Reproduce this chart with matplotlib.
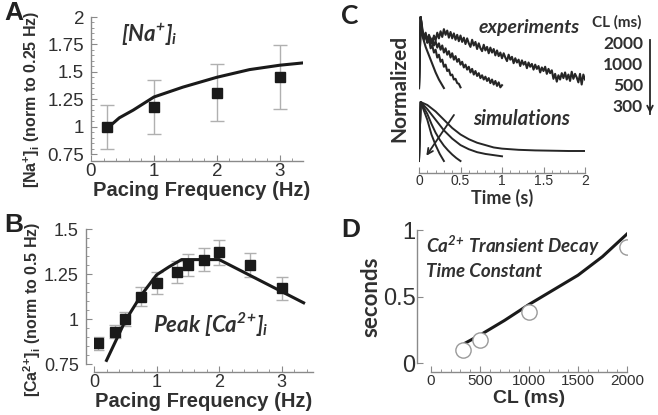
import matplotlib
matplotlib.use('Agg')
import matplotlib.pyplot as plt
from matplotlib.ticker import MultipleLocator

plt.rcParams['font.family'] = ['Liberation Sans', 'DejaVu Sans']
plt.rcParams['mathtext.default'] = 'regular'

W, H = 658, 415

# ---- panel A: [Na+]i vs pacing frequency
na_freq = [0.25, 1, 2, 3]
na_mean = [1.0, 1.18, 1.31, 1.45]
na_err = [0.2, 0.245, 0.26, 0.29]
na_sim_f = [0.27, 0.45, 0.67, 1.0, 1.46, 2.0, 2.52, 3.0, 3.35]
na_sim_v = [0.99, 1.08, 1.15, 1.27, 1.36, 1.45, 1.52, 1.56, 1.58]

# ---- panel B: peak [Ca2+]i vs pacing frequency
ca_freq = [0.07, 0.33, 0.5, 0.75, 1.0, 1.33, 1.5, 1.75, 2.0, 2.5, 3.0]
ca_mean = [0.865, 0.93, 1.0, 1.125, 1.2, 1.26, 1.30, 1.33, 1.37, 1.30, 1.17]
ca_err = [0.035, 0.035, 0.04, 0.055, 0.06, 0.06, 0.06, 0.065, 0.07, 0.065, 0.065]
ca_sim_f = [0.2, 0.5, 0.75, 1.0, 1.2, 1.4, 2.0, 3.35]
ca_sim_v = [0.77, 0.99, 1.13, 1.245, 1.29, 1.33, 1.33, 1.09]

# ---- panel C: normalized transients, experiments (noisy recordings)
exp_t_2000 = [0, 0.02, 0.04, 0.06, 0.08, 0.10, 0.12, 0.14, 0.16, 0.18, 0.20,
              0.22, 0.24, 0.26, 0.28, 0.30, 0.32, 0.34, 0.36, 0.38, 0.40,
              0.42, 0.44, 0.46, 0.48, 0.50, 0.52, 0.54, 0.56, 0.58, 0.60,
              0.62, 0.64, 0.66, 0.68, 0.70, 0.72, 0.74, 0.76, 0.78, 0.80,
              0.82, 0.84, 0.86, 0.88, 0.90, 0.92, 0.94, 0.96, 0.98, 1.00,
              1.02, 1.04, 1.06, 1.08, 1.10, 1.12, 1.14, 1.16, 1.18, 1.20,
              1.22, 1.24, 1.26, 1.28, 1.30, 1.32, 1.34, 1.36, 1.38, 1.40,
              1.42, 1.44, 1.46, 1.48, 1.50, 1.52, 1.54, 1.56, 1.58, 1.60,
              1.62, 1.64, 1.66, 1.68, 1.70, 1.72, 1.74, 1.76, 1.78, 1.80,
              1.82, 1.84, 1.86, 1.88, 1.90, 1.92, 1.94, 1.96, 1.98, 2.00]
exp_v_2000 = [0, 1.0, 0.84, 0.70, 0.78, 0.66, 0.75, 0.69, 0.62, 0.74, 0.67,
              0.78, 0.70, 0.80, 0.72, 0.83, 0.75, 0.81, 0.71, 0.79, 0.70,
              0.77, 0.68, 0.75, 0.66, 0.74, 0.65, 0.71, 0.62, 0.70, 0.63,
              0.58, 0.68, 0.60, 0.65, 0.55, 0.63, 0.56, 0.52, 0.61, 0.53,
              0.58, 0.49, 0.57, 0.50, 0.55, 0.46, 0.53, 0.45, 0.50, 0.42,
              0.49, 0.43, 0.38, 0.47, 0.40, 0.44, 0.35, 0.42, 0.36, 0.40,
              0.31, 0.39, 0.33, 0.37, 0.28, 0.36, 0.30, 0.34, 0.26, 0.33,
              0.27, 0.31, 0.22, 0.29, 0.24, 0.30, 0.20, 0.27, 0.21, 0.25,
              0.13, 0.20, 0.09, 0.18, 0.12, 0.21, 0.14, 0.22, 0.12, 0.19,
              0.10, 0.23, 0.13, 0.20, 0.15, 0.08, 0.20, 0.05, 0.19, 0.12]
exp_t_1000 = [0, 0.02, 0.04, 0.06, 0.08, 0.10, 0.12, 0.14, 0.16, 0.18, 0.20,
              0.22, 0.24, 0.26, 0.28, 0.30, 0.32, 0.34, 0.36, 0.38, 0.40,
              0.42, 0.44, 0.46, 0.48, 0.50, 0.52, 0.54, 0.56, 0.58, 0.60,
              0.62, 0.64, 0.66, 0.68, 0.70, 0.72, 0.74, 0.76, 0.78, 0.80,
              0.82, 0.84, 0.86, 0.88, 0.90, 0.92, 0.94, 0.96, 0.98, 1.00]
exp_v_1000 = [0, 1.0, 0.80, 0.68, 0.76, 0.64, 0.72, 0.62, 0.70, 0.60, 0.66,
              0.57, 0.63, 0.54, 0.60, 0.50, 0.56, 0.47, 0.52, 0.43, 0.49,
              0.40, 0.45, 0.37, 0.41, 0.33, 0.37, 0.29, 0.33, 0.26, 0.30,
              0.22, 0.27, 0.19, 0.24, 0.17, 0.21, 0.14, 0.18, 0.12, 0.16,
              0.10, 0.14, 0.07, 0.12, 0.05, 0.10, 0.03, 0.08, 0.01, 0.04]
exp_t_500 = [0, 0.02, 0.04, 0.06, 0.08, 0.10, 0.12, 0.14, 0.16, 0.18, 0.20, 0.22, 0.24,
             0.26, 0.28, 0.30, 0.32, 0.34, 0.36, 0.38, 0.40, 0.42, 0.44, 0.46, 0.48, 0.50]
exp_v_500 = [0, 1.0, 0.78, 0.70, 0.74, 0.64, 0.68, 0.56, 0.60, 0.50, 0.54, 0.43, 0.47,
             0.37, 0.40, 0.30, 0.33, 0.24, 0.26, 0.18, 0.19, 0.12, 0.13, 0.07, 0.06, 0.01]
exp_t_300 = [0, 0.02, 0.04, 0.06, 0.08, 0.10, 0.12, 0.14, 0.16, 0.18, 0.20, 0.22, 0.24,
             0.26, 0.28, 0.30]
exp_v_300 = [0, 1.0, 0.74, 0.66, 0.58, 0.52, 0.46, 0.40, 0.34, 0.28, 0.22, 0.17, 0.12,
             0.08, 0.04, 0.0]

# simulations
sim_t_2000 = [0, 0.02, 0.1, 0.2, 0.3, 0.4, 0.5, 0.6, 0.7, 0.8, 0.9, 1.0, 1.2, 1.4, 1.6, 1.8, 2.0]
sim_v_2000 = [0, 1.0, 0.95, 0.84, 0.70, 0.56, 0.45, 0.37, 0.31, 0.27, 0.23, 0.21, 0.19,
              0.18, 0.175, 0.17, 0.17]
sim_t_1000 = [0, 0.02, 0.1, 0.2, 0.3, 0.4, 0.5, 0.6, 0.7, 0.8, 0.9, 1.0]
sim_v_1000 = [0, 1.0, 0.88, 0.70, 0.52, 0.38, 0.27, 0.20, 0.15, 0.12, 0.10, 0.08]
sim_t_500 = [0, 0.02, 0.1, 0.15, 0.2, 0.25, 0.3, 0.35, 0.4, 0.45, 0.5]
sim_v_500 = [0, 1.0, 0.80, 0.63, 0.48, 0.36, 0.26, 0.18, 0.11, 0.05, 0.0]
sim_t_300 = [0, 0.02, 0.1, 0.15, 0.2, 0.25, 0.3]
sim_v_300 = [0, 1.0, 0.70, 0.45, 0.27, 0.12, 0.0]
cl_labels = ['2000', '1000', '500', '300']

# ---- panel D: decay time constant vs CL
tau_cl = [330, 500, 1000, 2000]
tau_exp = [0.10, 0.17, 0.38, 0.87]
tau_sim_cl = [350, 500, 750, 1000, 1250, 1500, 1750, 2000]
tau_sim = [0.15, 0.21, 0.32, 0.44, 0.55, 0.66, 0.80, 0.97]

fig = plt.figure(figsize=(W / 100, H / 100), dpi=100)


def box(l, t, r, b):
    return [l / W, 1 - b / H, (r - l) / W, (b - t) / H]


def px(x, y):
    return x / W, 1 - y / H


AX = '#8a8a8a'
TXT = '#303030'
CAL = ['Lato', 'DejaVu Sans']
ARIAL = ['Liberation Sans', 'DejaVu Sans']


def style(ax, size):
    for s in ['top', 'right']:
        ax.spines[s].set_visible(False)
    for s in ['left', 'bottom']:
        ax.spines[s].set_color(AX)
        ax.spines[s].set_linewidth(1)
    ax.tick_params(which='both', direction='in', colors=AX, labelcolor=TXT,
                   labelsize=size)
    ax.tick_params(which='major', length=4)
    ax.tick_params(which='minor', length=2)
    ax.tick_params(axis='x', pad=1.5)
    ax.tick_params(axis='y', pad=5)


# A
axA = fig.add_axes(box(91, 17, 303, 154))
style(axA, 13.5)
axA.errorbar(na_freq, na_mean, yerr=na_err, fmt='none', ecolor='#b0b0b0', elinewidth=1,
             capsize=5, capthick=1)
axA.plot(na_sim_f, na_sim_v, color='#1a1a1a', lw=2.2)
axA.plot(na_freq, na_mean, 's', color='#1a1a1a', ms=7)
axA.set_xlim(0, 3.37)
axA.set_ylim(0.75, 2.0)
axA.set_xticks([0, 1, 2, 3])
axA.xaxis.set_minor_locator(MultipleLocator(0.2))
axA.set_yticks([0.75, 1, 1.25, 1.5, 1.75, 2])
axA.set_yticklabels(['0.75', '1', '1.25', '1.5', '1.75', '2'])
axA.yaxis.set_minor_locator(MultipleLocator(0.05))
axA.spines['bottom'].set_position(('outward', 5))
axA.text(0.47, 1.84, '[Na$^{+}$]$_{i}$', fontsize=16, fontweight='bold', style='italic',
         family=CAL, color=TXT, va='center')

# B
axB = fig.add_axes(box(94, 229, 313, 364))
style(axB, 13)
axB.errorbar(ca_freq, ca_mean, yerr=ca_err, fmt='none', ecolor='#b0b0b0', elinewidth=1,
             capsize=4, capthick=1)
axB.plot(ca_sim_f, ca_sim_v, color='#1a1a1a', lw=2.2)
axB.plot(ca_freq, ca_mean, 's', color='#1a1a1a', ms=6.5)
axB.set_xlim(0, 3.5)
axB.set_ylim(0.75, 1.5)
axB.set_xticks([0, 1, 2, 3])
axB.xaxis.set_minor_locator(MultipleLocator(0.2))
axB.set_yticks([0.75, 1, 1.25, 1.5])
axB.set_yticklabels(['0.75', '1', '1.25', '1.5'])
axB.yaxis.set_minor_locator(MultipleLocator(0.05))
axB.spines['bottom'].set_position(('outward', 6))
axB.spines['left'].set_position(('outward', 6))
axB.text(0.94, 0.97, 'Peak [Ca$^{2}{}^{+}$]$_{i}$', fontsize=16, fontweight='bold',
         style='italic', family=CAL, color=TXT, va='center')

# C
axC = fig.add_axes(box(419, 10, 585, 173))
style(axC, 10)
axC.tick_params(axis='x', pad=1)
axC.spines['left'].set_visible(False)
axC.set_yticks([])
exp_base, exp_amp = 1.237, 1.203
for t, v in [(exp_t_2000, exp_v_2000), (exp_t_1000, exp_v_1000),
             (exp_t_500, exp_v_500), (exp_t_300, exp_v_300)]:
    axC.plot(t, [exp_base + exp_amp * x for x in v], color='#262626', lw=1.5)
for t, v in [(sim_t_2000, sim_v_2000), (sim_t_1000, sim_v_1000),
             (sim_t_500, sim_v_500), (sim_t_300, sim_v_300)]:
    axC.plot(t, v, color='#262626', lw=1.4)
axC.annotate('', xy=(0.07, 0.05), xytext=(0.44, 0.82),
             arrowprops=dict(arrowstyle='->', color='#262626', lw=1.3))
axC.set_xlim(0, 2)
axC.set_ylim(-0.203, 2.56)
axC.set_xticks([0, 0.5, 1, 1.5, 2])
axC.set_xticklabels(['0', '0.5', '1', '1.5', '2'])
axC.xaxis.set_minor_locator(MultipleLocator(0.1))
axC.text(0.72, 2.27, 'experiments', fontsize=14, style='italic', fontweight='bold',
         family=CAL, color=TXT, va='center')
axC.text(0.65, 0.72, 'simulations', fontsize=14.5, style='italic', fontweight='bold',
         family=CAL, color=TXT, va='center')

# D
axD = fig.add_axes(box(431, 230, 627, 363))
style(axD, 11)
axD.plot(tau_sim_cl, tau_sim, color='#1a1a1a', lw=2.2)
axD.plot(tau_cl, tau_exp, 'o', ms=11, mfc='white', mec='#9a9a9a', mew=1)
axD.set_xlim(0, 2000)
axD.set_ylim(0, 1)
axD.set_xticks([0, 500, 1000, 1500, 2000])
axD.xaxis.set_minor_locator(MultipleLocator(100))
axD.set_yticks([0, 0.5, 1])
axD.set_yticklabels(['0', '0.5', '1'])
axD.tick_params(axis='y', labelsize=17, pad=1)
axD.spines['bottom'].set_position(('outward', 6.5))
axD.spines['left'].set_position(('outward', 10))
axD.text(-50, 0.88, 'Ca$^{2}{}^{+}$ Transient Decay', fontsize=13.5, style='italic',
         fontweight='bold', family=CAL, color=TXT, va='center')
axD.text(-50, 0.69, 'Time Constant', fontsize=13.5, style='italic',
         fontweight='bold', family=CAL, color=TXT, va='center')

# axis labels
fig.text(*px(202, 190), 'Pacing Frequency (Hz)', fontsize=14.5, fontweight='bold',
         family=ARIAL, color=TXT, ha='center', va='center')
fig.text(*px(204, 401), 'Pacing Frequency (Hz)', fontsize=14.5, fontweight='bold',
         family=ARIAL, color=TXT, ha='center', va='center')
fig.text(*px(32, 99), '[Na$^{+}$]$_{i}$ (norm to 0.25 Hz)', fontsize=11.5,
         fontweight='bold', family=ARIAL, color=TXT, rotation=90, ha='center', va='center')
fig.text(*px(32, 309), '[Ca$^{2}{}^{+}$]$_{i}$ (norm to 0.5 Hz)', fontsize=11.5,
         fontweight='bold', family=ARIAL, color=TXT, rotation=90, ha='center', va='center')
fig.text(*px(399, 88), 'Normalized', fontsize=15, fontweight='bold', family=CAL,
         color=TXT, rotation=90, ha='center', va='center')
fig.text(*px(502, 198), 'Time (s)', fontsize=13, fontweight='bold', family=CAL,
         color=TXT, ha='center', va='center')
fig.text(*px(371, 297), 'seconds', fontsize=16, fontweight='bold', family=CAL,
         color=TXT, rotation=90, ha='center', va='center')
fig.text(*px(529, 398), 'CL (ms)', fontsize=14, fontweight='bold', family=ARIAL,
         color=TXT, ha='center', va='center')

# CL legend in C
fig.text(*px(617, 22), 'CL (ms)', fontsize=11, fontweight='bold', family=CAL,
         color=TXT, ha='center', va='center')
for i, lab in enumerate(cl_labels):
    fig.text(*px(643, 44 + i * 21), lab, fontsize=12.5, fontweight='bold', family=CAL,
             color=TXT, ha='right', va='center')
fig.add_artist(plt.Line2D([650 / W, 650 / W], [1 - 40 / H, 1 - 114 / H], color='#262626',
                          lw=1.3))
axC.annotate('', xy=px(650, 116), xytext=px(650, 105), xycoords='figure fraction',
             textcoords='figure fraction',
             arrowprops=dict(arrowstyle='->', color='#262626', lw=1.3))

# panel letters
fig.text(*px(14, 13), 'A', fontsize=19, fontweight='bold', family=ARIAL, color='#222',
         ha='center', va='center')
fig.text(*px(14, 225), 'B', fontsize=19, fontweight='bold', family=ARIAL, color='#222',
         ha='center', va='center')
fig.text(*px(350, 16), 'C', fontsize=19, fontweight='bold', family=CAL, color='#222',
         ha='center', va='center')
fig.text(*px(351, 230), 'D', fontsize=19, fontweight='bold', family=ARIAL, color='#222',
         ha='center', va='center')

fig.savefig('out.png', dpi=100)
